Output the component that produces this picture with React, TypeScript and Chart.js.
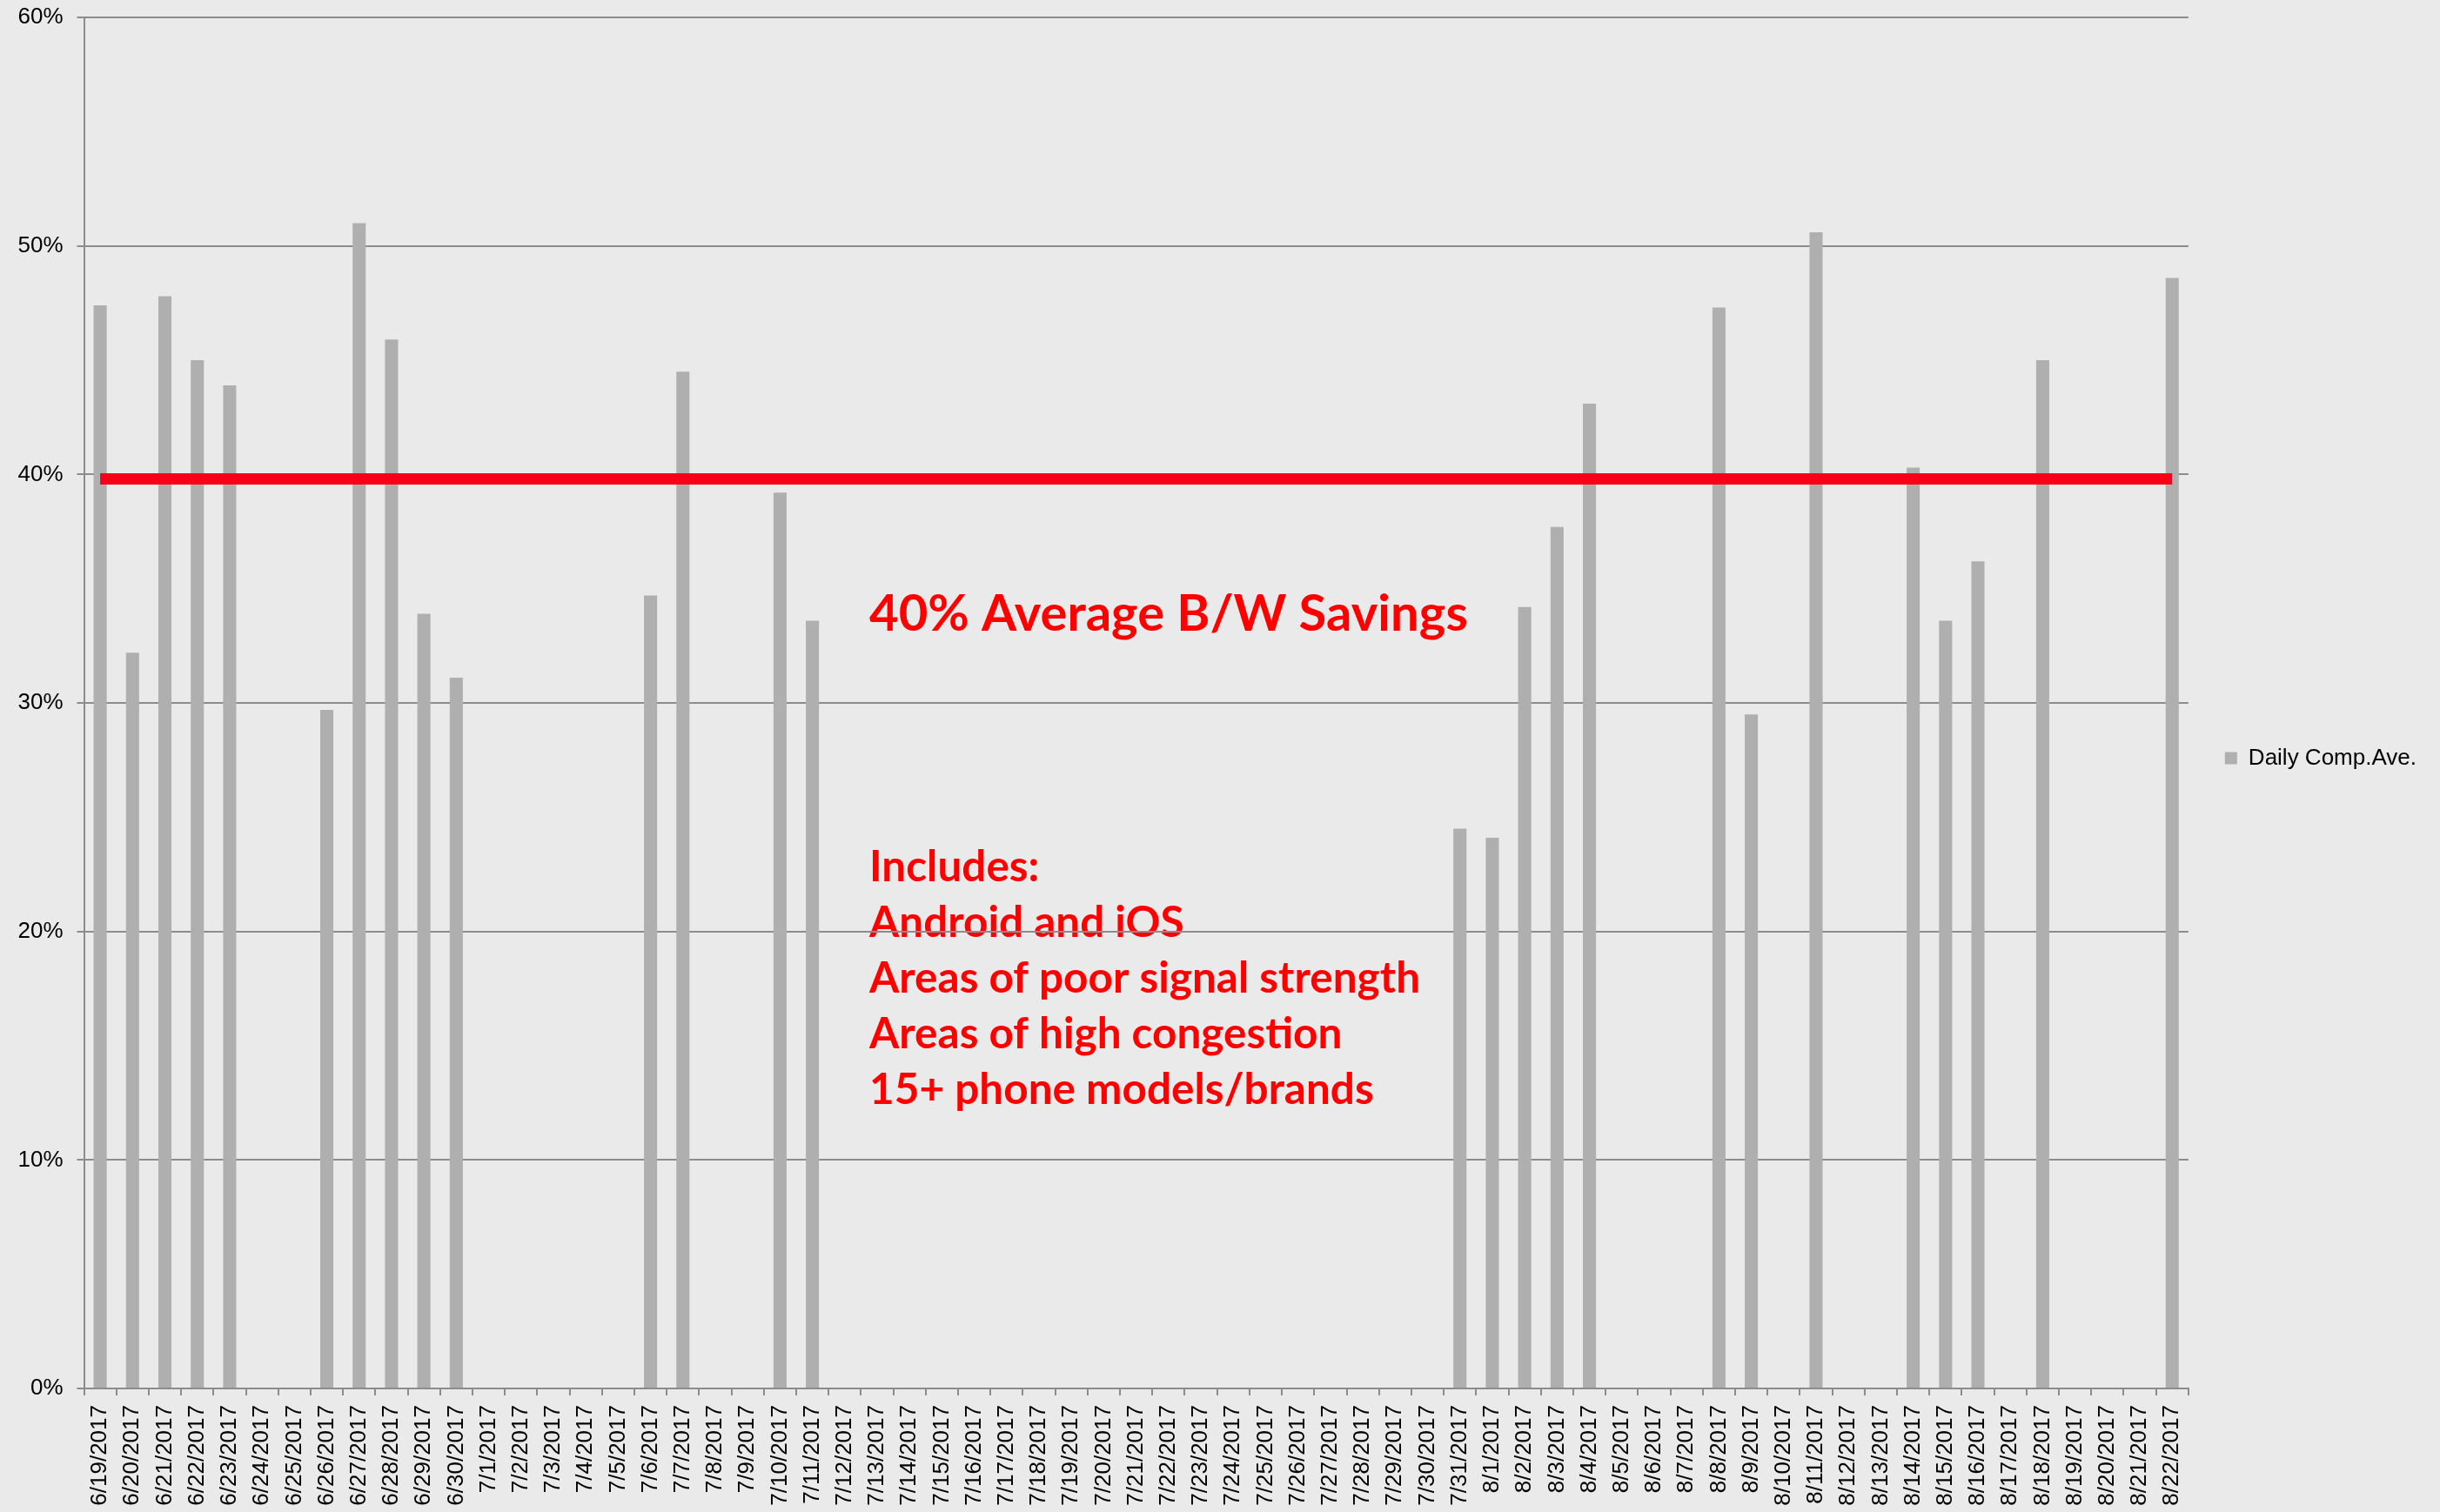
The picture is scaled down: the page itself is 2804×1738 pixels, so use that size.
import React, { useEffect, useRef } from 'react';
import { Chart, registerables } from 'chart.js';

Chart.register(...registerables);

// ---------- data ----------
const DATES: string[] = [
  '6/19/2017', '6/20/2017', '6/21/2017', '6/22/2017', '6/23/2017', '6/24/2017', '6/25/2017',
  '6/26/2017', '6/27/2017', '6/28/2017', '6/29/2017', '6/30/2017',
  '7/1/2017', '7/2/2017', '7/3/2017', '7/4/2017', '7/5/2017', '7/6/2017', '7/7/2017', '7/8/2017',
  '7/9/2017', '7/10/2017', '7/11/2017', '7/12/2017', '7/13/2017', '7/14/2017', '7/15/2017',
  '7/16/2017', '7/17/2017', '7/18/2017', '7/19/2017', '7/20/2017', '7/21/2017', '7/22/2017',
  '7/23/2017', '7/24/2017', '7/25/2017', '7/26/2017', '7/27/2017', '7/28/2017', '7/29/2017',
  '7/30/2017', '7/31/2017',
  '8/1/2017', '8/2/2017', '8/3/2017', '8/4/2017', '8/5/2017', '8/6/2017', '8/7/2017', '8/8/2017',
  '8/9/2017', '8/10/2017', '8/11/2017', '8/12/2017', '8/13/2017', '8/14/2017', '8/15/2017',
  '8/16/2017', '8/17/2017', '8/18/2017', '8/19/2017', '8/20/2017', '8/21/2017', '8/22/2017',
];

// Daily compression average (%); null = no data that day
const DAILY_COMP_AVE: (number | null)[] = [
  47.4, 32.2, 47.8, 45.0, 43.9, null, null,
  29.7, 51.0, 45.9, 33.9, 31.1,
  null, null, null, null, null, 34.7, 44.5, null,
  null, 39.2, 33.6, null, null, null, null,
  null, null, null, null, null, null, null,
  null, null, null, null, null, null, null,
  null, 24.5,
  24.1, 34.2, 37.7, 43.1, null, null, null, 47.3,
  29.5, null, 50.6, null, null, 40.3, 33.6,
  36.2, null, 45.0, null, null, null, 48.6,
];

const AVERAGE_SAVINGS = 39.8;
const SERIES_LABEL = 'Daily Comp.Ave.';
const Y_MIN = 0;
const Y_MAX = 60;
const Y_STEP = 10;

const HEADLINE = '40% Average B/W Savings';
const NOTES: string[] = [
  'Includes:',
  'Android and iOS',
  'Areas of poor signal strength',
  'Areas of high congestion',
  '15+ phone models/brands',
];

// ---------- styles ----------
const BG = '#eaeaea';
const BAR_COLOR = '#afafaf';
const GRID_COLOR = '#8c8c8c';
const AVG_COLOR = '#f70019';
const NOTE_COLOR = '#ff0000';
const FONT = '"Liberation Sans", Arial, sans-serif';

const backgroundAndNotes = {
  id: 'backgroundAndNotes',
  afterLayout(chart: any) {
    // nudge the legend a little upward to match the original placement
    if (chart.legend) {
      chart.legend.top -= 5;
      chart.legend.bottom -= 5;
    }
  },
  beforeDraw(chart: any) {
    const { ctx, width, height } = chart;
    ctx.save();
    ctx.fillStyle = BG;
    ctx.fillRect(0, 0, width, height);
    ctx.fillStyle = NOTE_COLOR;
    ctx.textAlign = 'left';
    ctx.textBaseline = 'alphabetic';
    ctx.font = 'bold 58px Lato, "Open Sans", sans-serif';
    ctx.fillText(HEADLINE, 999, 725);
    ctx.font = 'bold 49.5px Lato, "Open Sans", sans-serif';
    NOTES.forEach((t, i) => ctx.fillText(t, 999, 1013 + i * 64));
    ctx.restore();
  },
};

export default function App() {
  const ref = useRef<HTMLCanvasElement | null>(null);

  useEffect(() => {
    document.body.style.margin = '0';
    document.body.style.background = BG;
    const canvas = ref.current;
    if (!canvas) return;

    const avgLine = DATES.map(() => AVERAGE_SAVINGS);

    const chart = new Chart(canvas, {
      type: 'bar',
      data: {
        labels: DATES,
        datasets: [
          {
            type: 'line',
            label: 'Average',
            data: avgLine,
            borderColor: AVG_COLOR,
            backgroundColor: AVG_COLOR,
            borderWidth: 13,
            borderCapStyle: 'butt',
            pointRadius: 0,
            pointHoverRadius: 0,
            fill: false,
            order: 0,
          } as any,
          {
            type: 'bar',
            label: SERIES_LABEL,
            data: DAILY_COMP_AVE,
            backgroundColor: BAR_COLOR,
            borderWidth: 0,
            categoryPercentage: 1,
            barPercentage: 0.405,
            order: 1,
          } as any,
        ],
      },
      options: {
        responsive: false,
        animation: false,
        devicePixelRatio: 1,
        layout: { padding: { top: 20, left: 20, bottom: 5, right: 17 } },
        plugins: {
          legend: {
            position: 'right',
            align: 'center',
            labels: {
              filter: (item: any) => item.text === SERIES_LABEL,
              boxWidth: 14,
              boxHeight: 14,
              padding: 42,
              color: '#000',
              font: { family: FONT, size: 26 },
            },
          },
          tooltip: { enabled: false },
        },
        scales: {
          x: {
            offset: true,
            afterFit: (s: any) => {
              s.height = 137;
              s.paddingLeft = 0;
              s.paddingRight = 0;
            },
            grid: {
              offset: true,
              drawOnChartArea: false,
              drawTicks: true,
              tickLength: 8,
              color: GRID_COLOR,
              lineWidth: 2,
            },
            border: { color: GRID_COLOR, width: 2 },
            ticks: {
              autoSkip: false,
              maxRotation: 90,
              minRotation: 90,
              padding: 11,
              color: '#000',
              font: { family: FONT, size: 26 },
            },
          },
          y: {
            min: Y_MIN,
            max: Y_MAX,
            afterFit: (s: any) => {
              s.width = 76.5;
              s.paddingTop = 0;
              s.paddingBottom = 0;
            },
            grid: { color: GRID_COLOR, lineWidth: 2, tickLength: 8 },
            border: { color: GRID_COLOR, width: 2 },
            ticks: {
              stepSize: Y_STEP,
              padding: 16,
              color: '#000',
              font: { family: FONT, size: 26 },
              callback: (v: any) => `${v}%`,
            },
          },
        },
      },
      plugins: [backgroundAndNotes],
    } as any);

    return () => chart.destroy();
  }, []);

  return <canvas ref={ref} width={2804} height={1738} style={{ display: 'block' }} />;
}
